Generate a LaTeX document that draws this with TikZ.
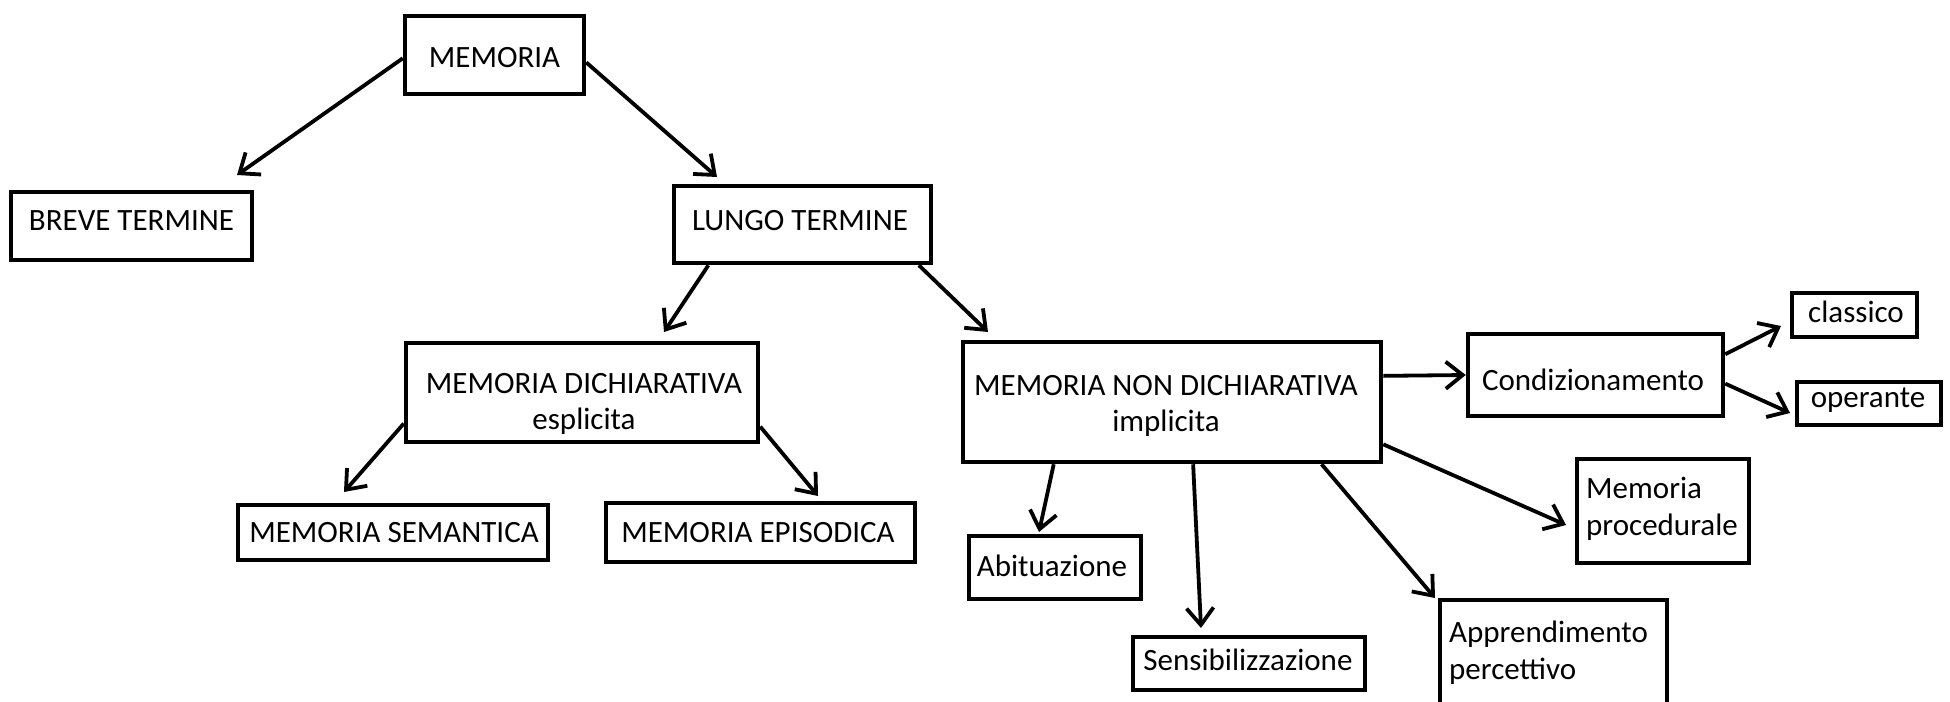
\documentclass[tikz,border=0pt]{standalone}
\usepackage{fontspec}
\setmainfont{Carlito}
\usetikzlibrary{arrows.meta,calc}
\tikzset{
  box/.style={draw, line width=4.5pt, inner sep=0pt, rectangle},
  txt/.style={inner sep=0pt, anchor=base, font=\fontsize{31}{37}\selectfont},
  txtl/.style={inner sep=0pt, anchor=base west, font=\fontsize{31}{37}\selectfont},
  conn/.style={line width=3.8pt, -{Straight Barb[length=17pt,width=27pt]}}
}
\begin{document}
\begin{tikzpicture}[x=1pt,y=-1pt]
\useasboundingbox[fill=white] (0,0) rectangle (1950,701);
% boxes
\node[box, minimum width=179pt, minimum height=78pt] (mem) at (494.5,55) {};
\node[box, minimum width=241pt, minimum height=68pt] (breve) at (131.5,226) {};
\node[box, minimum width=257pt, minimum height=77pt] (lungo) at (802.5,224.5) {};
\node[box, minimum width=352pt, minimum height=99pt] (dich) at (582,392.5) {};
\node[box, minimum width=310pt, minimum height=55pt] (sem) at (393,532.5) {};
\node[box, minimum width=309pt, minimum height=59pt] (epi) at (760.5,532.5) {};
\node[box, minimum width=418pt, minimum height=120pt] (nond) at (1172,402) {};
\node[box, minimum width=255pt, minimum height=82pt] (cond) at (1595.5,375) {};
\node[box, minimum width=125pt, minimum height=44pt] (clas) at (1854.5,315) {};
\node[box, minimum width=144pt, minimum height=43pt] (oper) at (1869,403.5) {};
\node[box, minimum width=172pt, minimum height=104pt] (proc) at (1663,511) {};
\node[box, minimum width=172pt, minimum height=63pt] (abit) at (1055,567.5) {};
\node[box, minimum width=232pt, minimum height=53pt] (sens) at (1249,663.5) {};
\node[box, minimum width=227pt, minimum height=130pt] (appr) at (1553.5,665) {};
% texts
\node[txt] (tmem) at (494.5,67) {MEMORIA};
\node[txt] (tbreve) at (131.5,230) {BREVE TERMINE};
\node[txt] (tlungo) at (800,230) {LUNGO TERMINE};
\node[txt] (tdich1) at (584,393) {MEMORIA DICHIARATIVA};
\node[txt] (tdich2) at (584,429) {esplicita};
\node[txt] (tsem) at (394,542) {MEMORIA SEMANTICA};
\node[txt] (tepi) at (758,542) {MEMORIA EPISODICA};
\node[txt] (tnond1) at (1166,395) {MEMORIA NON DICHIARATIVA};
\node[txt] (tnond2) at (1166,431) {implicita};
\node[txt] (tcond) at (1593,390) {Condizionamento};
\node[txt] (tclas) at (1856,322) {classico};
\node[txt] (toper) at (1868,407) {operante};
\node[txtl] (tproc1) at (1586,498) {Memoria};
\node[txtl] (tproc2) at (1586,535) {procedurale};
\node[txt] (tabit) at (1052,576) {Abituazione};
\node[txt] (tsens) at (1248,670) {Sensibilizzazione};
\node[txtl] (tappr1) at (1449,642) {Apprendimento};
\node[txtl] (tappr2) at (1449,679) {percettivo};
% arrow tips
\coordinate (p1) at (237,175);
\coordinate (p2) at (717,177);
\coordinate (p3) at (664,332);
\coordinate (p4) at (988,332);
\coordinate (p5) at (344,492);
\coordinate (p6) at (818,496);
\coordinate (p7) at (1566,525);
\coordinate (p8) at (1039,532);
\coordinate (p9) at (1201,628);
\coordinate (p10) at (1435,598);
\coordinate (p11) at (1781,326);
\coordinate (p12) at (1790,413);
% connectors
\draw[conn] ($(mem.north west)!0.54!(mem.south west)$) -- (p1);
\draw[conn] ($(mem.north east)!0.59!(mem.south east)$) -- (p2);
\draw[conn] ($(lungo.south west)!0.14!(lungo.south east)$) -- (p3);
\draw[conn] ($(lungo.south west)!0.945!(lungo.south east)$) -- (p4);
\draw[conn] ($(dich.north west)!0.80!(dich.south west)$) -- (p5);
\draw[conn] ($(dich.north east)!0.83!(dich.south east)$) -- (p6);
\draw[conn] ($(nond.north east)!0.29!(nond.south east)$) -- (cond.west);
\draw[conn] ($(nond.north east)!0.84!(nond.south east)$) -- (p7);
\draw[conn] ($(nond.south west)!0.22!(nond.south east)$) -- (p8);
\draw[conn] ($(nond.south west)!0.55!(nond.south east)$) -- (p9);
\draw[conn] ($(nond.south west)!0.854!(nond.south east)$) -- (p10);
\draw[conn] ($(cond.north east)!0.26!(cond.south east)$) -- (p11);
\draw[conn] ($(cond.north east)!0.60!(cond.south east)$) -- (p12);
\end{tikzpicture}
\end{document}
